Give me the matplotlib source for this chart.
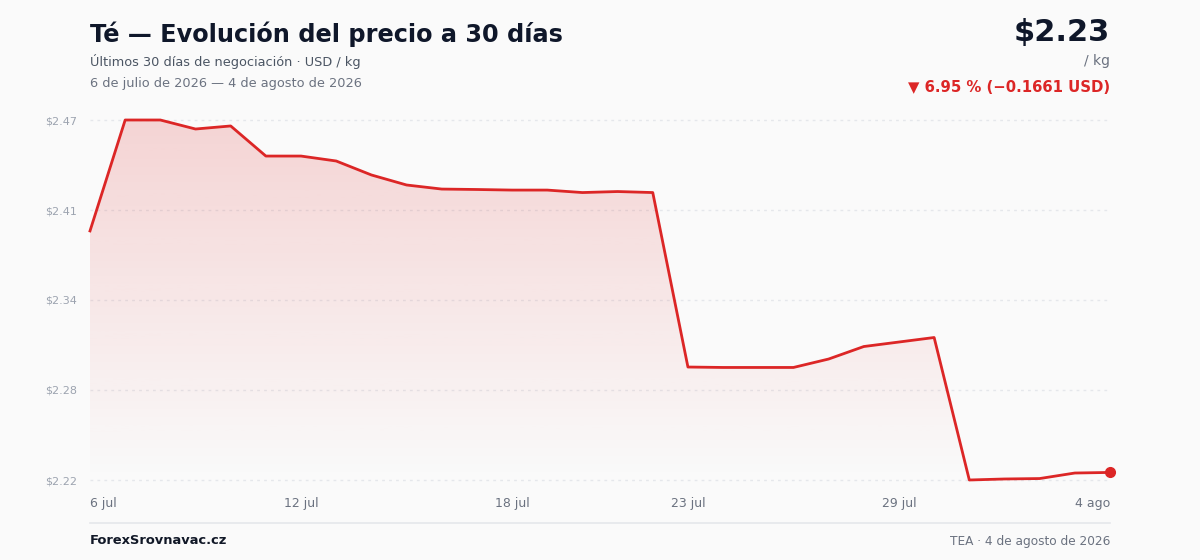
import numpy as np
import matplotlib
matplotlib.use("Agg")
import matplotlib.pyplot as plt
from matplotlib.patches import Polygon

# Price data (USD / kg), 6 jul 2026 -> 4 ago 2026
days = list(range(30))
prices = [
    2.3911, 2.4674, 2.4674, 2.4612, 2.4633, 2.4426, 2.4426, 2.4392, 2.4296, 2.4227,
    2.4199, 2.4196, 2.4192, 2.4192, 2.4175, 2.4182, 2.4175, 2.2975, 2.2972, 2.2972,
    2.2972, 2.3030, 2.3116, 2.3147, 2.3178, 2.2198, 2.2205, 2.2208, 2.2246, 2.2250,
]
tick_days = [0, 6, 12, 17, 23, 29]
tick_labels = ["6 jul", "12 jul", "18 jul", "23 jul", "29 jul", "4 ago"]

title = "Té — Evolución del precio a 30 días"
subtitle = "Últimos 30 días de negociación · USD / kg"
date_range = "6 de julio de 2026 — 4 de agosto de 2026"
price_text = "$2.23"
unit_text = "/ kg"
change_text = "▼ 6.95 % (−0.1661 USD)"
brand = "ForexSrovnavac.cz"
footer_right = "TEA · 4 de agosto de 2026"

W, H = 1200, 560
BG = "#fafafa"
RED = "#dc2626"

plt.rcParams['font.family'] = ['DejaVu Sans']

fig = plt.figure(figsize=(W / 100, H / 100), dpi=100, facecolor=BG)


def px(x, y):
    return x / W, 1 - y / H


# plot area: x 90..1110, y 120..480
ax = fig.add_axes([90 / W, 1 - 480 / H, 1020 / W, 360 / H], facecolor=BG)
ymin, ymax = min(prices), max(prices)
ax.set_xlim(0, 29)
ax.set_ylim(ymin, ymax)

# gradient fill under the line
verts = [(0, ymin)] + list(zip(days, prices)) + [(29, ymin)]
poly = Polygon(verts, closed=True, facecolor="none", edgecolor="none")
ax.add_patch(poly)
grad = np.zeros((256, 1, 4))
grad[:, 0, 0] = 220 / 255
grad[:, 0, 1] = 38 / 255
grad[:, 0, 2] = 38 / 255
grad[:, 0, 3] = np.linspace(0.18, 0.0, 256)
im = ax.imshow(grad, extent=[0, 29, ymin, ymax], origin="upper",
               aspect="auto", zorder=1)
im.set_clip_path(poly)

# grid lines
yticks = np.linspace(ymin, ymax, 5)
for yv in yticks:
    ax.axhline(yv, color="#e5e7eb", lw=1, ls=(0, (2, 3)), zorder=0.5, clip_on=False)

ax.plot(days, prices, color=RED, lw=2, zorder=3, clip_on=False,
        solid_joinstyle="round")
ax.plot([days[-1]], [prices[-1]], "o", color=RED, ms=7, zorder=4, clip_on=False)

for s in ax.spines.values():
    s.set_visible(False)
ax.set_yticks(yticks)
ax.set_yticklabels([f"${v:.2f}" for v in yticks], color="#9ca3af", fontsize=8)
ax.set_xticks(tick_days)
ax.set_xticklabels(tick_labels, color="#6b7280", fontsize=9)
ax.tick_params(axis="both", length=0)
ax.tick_params(axis="y", pad=9)
ax.tick_params(axis="x", pad=12)
xl = ax.get_xticklabels()
xl[0].set_ha("left")
xl[-1].set_ha("right")

# header
fig.text(*px(90, 34), title, fontsize=17.3, fontweight="bold", color="#0f172a",
         ha="left", va="center")
fig.text(*px(90, 61), subtitle, fontsize=9.3, color="#4b5563", ha="left", va="center")
fig.text(*px(90, 83), date_range, fontsize=9.3, color="#6b7280", ha="left", va="center")

fig.text(*px(1110, 33), price_text, fontsize=22, fontweight="bold", color="#0f172a",
         ha="right", va="center")
fig.text(*px(1110, 61), unit_text, fontsize=10, color="#6b7280", ha="right", va="center")
fig.text(*px(1110, 87), change_text, fontsize=10.7, fontweight="bold", color=RED,
         ha="right", va="center")

# footer
fig.add_artist(plt.Line2D([90 / W, 1110 / W], [1 - 523 / H, 1 - 523 / H],
                          color="#e5e7eb", lw=1.2))
fig.text(*px(90, 541), brand, fontsize=9.4, fontweight="bold", color="#111827",
         ha="left", va="center")
fig.text(*px(1110, 541), footer_right, fontsize=8.7, color="#6b7280",
         ha="right", va="center")

fig.savefig("out.png", dpi=100, facecolor=BG)
